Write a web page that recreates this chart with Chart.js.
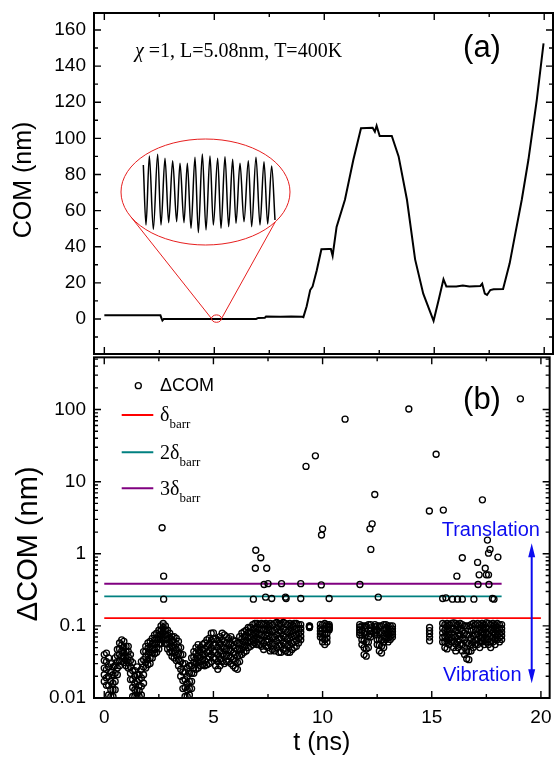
<!DOCTYPE html>
<html>
<head>
<meta charset="utf-8">
<title>COM and ΔCOM vs time</title>
<script src="https://cdn.jsdelivr.net/npm/chart.js@4.4.1/dist/chart.umd.min.js"></script>
<style>
  body { margin: 0; background: #fff; }
  #wrap { position: relative; width: 555px; height: 758px; }
  #wrap canvas { position: absolute; left: 0; }
  #chartA { top: 0; }
  #chartB { top: 352px; }
</style>
</head>
<body>
<div id="wrap">
  <canvas id="chartA" width="555" height="356"></canvas>
  <canvas id="chartB" width="555" height="406"></canvas>
</div>
<script>
// shared time axis
var tTicks = [0, 5, 10, 15, 20];
var tMinor = [2.5, 7.5, 12.5, 17.5];

// (a) COM trajectory
var comTicks = [0, 20, 40, 60, 80, 100, 120, 140, 160];
var comMinor = [-10, 10, 30, 50, 70, 90, 110, 130, 150];
var comT = [0, 1.0, 2.0, 2.55, 2.6, 2.64, 2.7, 3.5, 4.5, 5.5, 6.5, 6.9, 7.0, 7.3, 7.35, 8.0, 8.5, 9.0, 9.05, 9.2,
  9.36, 9.47, 9.66, 9.87, 10.2, 10.3, 10.38, 10.56, 10.94, 11.32, 11.67, 12.2, 12.3, 12.38, 12.52, 13.07, 13.38, 13.76, 14.13, 14.5,
  14.97, 15.2, 15.42, 15.55, 16.0, 16.3, 16.6, 17.1, 17.18, 17.3, 17.4, 17.55, 17.7, 18.13, 18.43, 18.66, 18.98, 19.28, 19.66, 19.97];
var comV = [2, 2, 2, 2, 0.3, -0.8, 0, 0, 0, 0, 0, 0, 0.6, 0.7, 1.3, 1.2, 1.3, 1.2, 1.0, 7,
  16, 18, 27, 38.6, 38.8, 38.8, 35, 51, 66, 88, 105.6, 105.8, 103.7, 107, 101.3, 101.3, 90, 66, 33, 14,
  -1, 10.5, 22, 18, 18, 18.5, 18, 18.3, 19.5, 14, 13.3, 16, 16.4, 16.6, 30.8, 45.6, 66, 88, 121, 152.6];

// zoomed vibration shown in the inset (t in ns, COM offset in nm)
var insetT = [5.000, 5.008, 5.018, 5.030, 5.043, 5.053, 5.065, 5.076, 5.088, 5.100, 5.110, 5.122, 5.132, 5.143, 5.155, 5.165, 5.177, 5.188,
  5.200, 5.210, 5.223, 5.233, 5.245, 5.256, 5.268, 5.278, 5.290, 5.302, 5.315, 5.325, 5.338, 5.350, 5.362, 5.373, 5.385, 5.395];
var insetV = [0.085, -0.095, 0.112, -0.108, 0.117, -0.095, 0.105, -0.088, 0.098, -0.085, 0.090, -0.088, 0.090, -0.105, 0.108, -0.118, 0.118, -0.110,
  0.112, -0.095, 0.105, -0.105, 0.110, -0.100, 0.102, -0.090, 0.090, -0.085, 0.098, -0.100, 0.108, -0.095, 0.095, -0.092, 0.082, -0.080];

// (b) ΔCOM, log axis
var dcomTicks = [0.01, 0.1, 1, 10, 100];
// isolated jumps
var outT = [2.65, 2.72, 2.72, 6.83, 6.92, 6.94, 7.17, 7.32, 7.39, 7.44, 7.5, 7.67, 8.12, 8.3, 8.33, 9.0, 9.0, 9.24, 9.67, 9.94,
  9.95, 10.0, 10.3, 11.03, 11.71, 12.17, 12.21, 12.27, 12.39, 12.55, 13.95, 14.89, 15.2, 15.5, 15.53, 15.65, 15.95, 16.15, 16.18, 16.4,
  16.4, 16.93, 17.1, 17.12, 17.17, 17.32, 17.45, 17.5, 17.55, 17.6, 17.6, 17.62, 17.67, 17.78, 17.85, 18.03, 19.06];
var outV = [2.3, 0.49, 0.235, 0.235, 0.63, 1.12, 0.88, 0.375, 0.25, 0.63, 0.385, 0.24, 0.385, 0.25, 0.24, 0.385, 0.24, 16.3, 22.8, 0.37,
  1.82, 2.22, 0.24, 73.6, 0.375, 2.22, 1.15, 2.6, 6.65, 0.25, 102, 3.92, 24, 0.24, 4.04, 0.245, 0.235, 0.49, 0.235, 0.88,
  0.235, 0.235, 0.76, 0.375, 0.51, 5.6, 0.63, 0.51, 1.55, 0.51, 1.02, 0.375, 1.15, 0.24, 0.235, 0.9, 141];
// vibration band: five points per column, from the top of the band down
var bandT = [0, 0.1, 0.2, 0.3, 0.4, 0.5, 0.6, 0.7, 0.8, 0.9,
  1, 1.1, 1.2, 1.3, 1.4, 1.5, 1.6, 1.7, 1.8, 1.9,
  2, 2.1, 2.2, 2.3, 2.4, 2.5, 2.6, 2.7, 2.8, 2.9,
  3, 3.1, 3.2, 3.3, 3.4, 3.5, 3.6, 3.7, 3.8, 3.9,
  4, 4.1, 4.2, 4.3, 4.4, 4.5, 4.6, 4.7, 4.8, 4.9,
  5, 5.1, 5.2, 5.3, 5.4, 5.5, 5.6, 5.7, 5.8, 5.9,
  6, 6.1, 6.2, 6.3, 6.4, 6.5, 6.6, 6.7, 6.8, 6.9,
  7, 7.1, 7.2, 7.3, 7.4, 7.5, 7.6, 7.7, 7.8, 7.9,
  8, 8.1, 8.2, 8.3, 8.4, 8.5, 8.6, 8.7, 8.8, 8.9,
  9,
  9.4, 9.9, 10, 10.1, 10.2, 10.3,
  11.7, 11.8, 11.9, 12, 12.1, 12.2,
  12.4, 12.5, 12.6, 12.7, 12.8, 12.9, 13, 13.1, 13.2,
  14.9,
  15.5, 15.6, 15.7, 15.8, 15.9, 16, 16.1, 16.2, 16.3, 16.4,
  16.5, 16.6, 16.7, 16.8, 16.9, 17, 17.1, 17.2, 17.3, 17.4,
  17.5, 17.6, 17.7, 17.8, 17.9, 18, 18.1, 18.2];
var bandHi = [0.040, 0.042, 0.036, 0.030, 0.027, 0.036, 0.047, 0.058, 0.064, 0.061,
  0.052, 0.052, 0.040, 0.031, 0.024, 0.027, 0.021, 0.032, 0.044, 0.052,
  0.058, 0.061, 0.067, 0.075, 0.079, 0.087, 0.100, 0.108, 0.100, 0.087,
  0.079, 0.071, 0.071, 0.067, 0.061, 0.050, 0.040, 0.030, 0.026, 0.028,
  0.036, 0.044, 0.050, 0.055, 0.050, 0.055, 0.058, 0.064, 0.067, 0.079,
  0.080, 0.067, 0.064, 0.071, 0.079, 0.075, 0.071, 0.067, 0.071, 0.064,
  0.061, 0.058, 0.071, 0.079, 0.083, 0.087, 0.095, 0.095, 0.104, 0.108,
  0.108, 0.104, 0.108, 0.106, 0.108, 0.104, 0.108, 0.104, 0.108, 0.112,
  0.108, 0.108, 0.112, 0.108, 0.104, 0.108, 0.104, 0.108, 0.108, 0.104,
  0.104,
  0.100, 0.105, 0.104, 0.108, 0.104, 0.104,
  0.104, 0.100, 0.100, 0.100, 0.104, 0.104,
  0.104, 0.100, 0.100, 0.100, 0.104, 0.104, 0.100, 0.100, 0.100,
  0.095,
  0.108, 0.104, 0.108, 0.104, 0.108, 0.110, 0.108, 0.104, 0.108, 0.104,
  0.100, 0.100, 0.100, 0.104, 0.108, 0.104, 0.108, 0.104, 0.108, 0.104,
  0.110, 0.108, 0.104, 0.108, 0.104, 0.108, 0.104, 0.104];
var bandUp = [0.033, 0.032, 0.027, 0.023, 0.021, 0.028, 0.039, 0.048, 0.054, 0.051,
  0.044, 0.044, 0.033, 0.024, 0.020, 0.021, 0.018, 0.025, 0.034, 0.044,
  0.049, 0.051, 0.057, 0.064, 0.068, 0.075, 0.087, 0.095, 0.087, 0.075,
  0.068, 0.061, 0.060, 0.056, 0.050, 0.040, 0.030, 0.023, 0.020, 0.022,
  0.028, 0.037, 0.042, 0.046, 0.043, 0.047, 0.048, 0.052, 0.055, 0.063,
  0.066, 0.054, 0.051, 0.057, 0.063, 0.060, 0.058, 0.056, 0.057, 0.052,
  0.049, 0.047, 0.058, 0.066, 0.071, 0.074, 0.081, 0.082, 0.088, 0.092,
  0.091, 0.089, 0.090, 0.087, 0.090, 0.087, 0.087, 0.085, 0.087, 0.092,
  0.086, 0.086, 0.090, 0.087, 0.083, 0.086, 0.085, 0.089, 0.090, 0.090,
  0.092,
  0.099, 0.094, 0.090, 0.090, 0.090, 0.099,
  0.096, 0.087, 0.079, 0.077, 0.087, 0.094,
  0.097, 0.087, 0.081, 0.080, 0.087, 0.091, 0.088, 0.089, 0.091,
  0.086,
  0.093, 0.087, 0.088, 0.088, 0.093, 0.090, 0.087, 0.087, 0.091, 0.084,
  0.079, 0.076, 0.075, 0.084, 0.089, 0.088, 0.091, 0.087, 0.093, 0.089,
  0.094, 0.091, 0.087, 0.093, 0.089, 0.095, 0.091, 0.092];
var bandMid = [0.026, 0.025, 0.020, 0.017, 0.016, 0.022, 0.032, 0.040, 0.045, 0.043,
  0.038, 0.037, 0.027, 0.018, 0.016, 0.017, 0.015, 0.019, 0.027, 0.037,
  0.041, 0.043, 0.049, 0.055, 0.058, 0.065, 0.076, 0.083, 0.076, 0.065,
  0.058, 0.052, 0.050, 0.047, 0.041, 0.032, 0.023, 0.018, 0.016, 0.017,
  0.022, 0.031, 0.035, 0.038, 0.037, 0.040, 0.040, 0.043, 0.045, 0.050,
  0.054, 0.043, 0.040, 0.045, 0.050, 0.048, 0.048, 0.046, 0.046, 0.042,
  0.040, 0.038, 0.048, 0.056, 0.060, 0.063, 0.069, 0.070, 0.075, 0.079,
  0.077, 0.076, 0.075, 0.071, 0.075, 0.072, 0.070, 0.070, 0.070, 0.075,
  0.068, 0.068, 0.072, 0.070, 0.067, 0.068, 0.070, 0.073, 0.075, 0.078,
  0.082,
  0.098, 0.085, 0.078, 0.076, 0.078, 0.095,
  0.088, 0.075, 0.062, 0.060, 0.072, 0.085,
  0.090, 0.075, 0.066, 0.064, 0.072, 0.080, 0.078, 0.080, 0.083,
  0.078,
  0.080, 0.072, 0.072, 0.075, 0.080, 0.074, 0.070, 0.072, 0.076, 0.068,
  0.063, 0.058, 0.057, 0.068, 0.073, 0.075, 0.077, 0.072, 0.080, 0.076,
  0.081, 0.077, 0.072, 0.080, 0.076, 0.084, 0.079, 0.082];
var bandDn = [0.021, 0.019, 0.015, 0.013, 0.013, 0.017, 0.026, 0.033, 0.038, 0.037,
  0.033, 0.031, 0.022, 0.014, 0.013, 0.013, 0.0125, 0.0145, 0.021, 0.031,
  0.034, 0.036, 0.042, 0.047, 0.050, 0.056, 0.066, 0.072, 0.066, 0.056,
  0.050, 0.044, 0.042, 0.039, 0.034, 0.025, 0.0175, 0.014, 0.013, 0.0135,
  0.017, 0.026, 0.030, 0.031, 0.032, 0.034, 0.033, 0.035, 0.037, 0.040,
  0.044, 0.035, 0.032, 0.035, 0.040, 0.038, 0.039, 0.038, 0.037, 0.034,
  0.032, 0.031, 0.039, 0.047, 0.051, 0.053, 0.059, 0.060, 0.064, 0.068,
  0.065, 0.065, 0.062, 0.058, 0.062, 0.060, 0.056, 0.057, 0.056, 0.061,
  0.054, 0.054, 0.058, 0.056, 0.054, 0.054, 0.057, 0.060, 0.062, 0.067,
  0.072,
  0.096, 0.077, 0.068, 0.065, 0.068, 0.091,
  0.081, 0.064, 0.050, 0.048, 0.060, 0.077,
  0.085, 0.064, 0.054, 0.052, 0.060, 0.072, 0.068, 0.072, 0.076,
  0.070,
  0.069, 0.060, 0.059, 0.064, 0.069, 0.061, 0.056, 0.060, 0.065, 0.055,
  0.050, 0.045, 0.044, 0.055, 0.060, 0.064, 0.065, 0.060, 0.069, 0.065,
  0.070, 0.065, 0.060, 0.069, 0.065, 0.074, 0.069, 0.073];
var bandLo = [0.017, 0.015, 0.011, 0.0105, 0.0105, 0.013, 0.021, 0.028, 0.032, 0.031,
  0.028, 0.026, 0.018, 0.0105, 0.0105, 0.0105, 0.0105, 0.011, 0.016, 0.026,
  0.029, 0.030, 0.036, 0.041, 0.043, 0.048, 0.057, 0.063, 0.057, 0.048,
  0.043, 0.038, 0.036, 0.033, 0.028, 0.020, 0.0135, 0.0105, 0.0105, 0.011,
  0.0135, 0.022, 0.025, 0.026, 0.028, 0.029, 0.028, 0.029, 0.030, 0.032,
  0.036, 0.028, 0.025, 0.028, 0.032, 0.030, 0.032, 0.032, 0.030, 0.028,
  0.026, 0.025, 0.032, 0.040, 0.043, 0.045, 0.050, 0.052, 0.055, 0.058,
  0.055, 0.055, 0.052, 0.047, 0.052, 0.050, 0.045, 0.047, 0.045, 0.050,
  0.043, 0.043, 0.047, 0.045, 0.043, 0.043, 0.047, 0.050, 0.052, 0.058,
  0.064,
  0.095, 0.070, 0.060, 0.055, 0.060, 0.088,
  0.075, 0.055, 0.040, 0.038, 0.050, 0.070,
  0.080, 0.055, 0.045, 0.042, 0.050, 0.065, 0.060, 0.065, 0.070,
  0.062,
  0.060, 0.050, 0.048, 0.055, 0.060, 0.050, 0.045, 0.050, 0.055, 0.045,
  0.040, 0.035, 0.034, 0.045, 0.050, 0.055, 0.055, 0.050, 0.060, 0.055,
  0.060, 0.055, 0.050, 0.060, 0.055, 0.065, 0.060, 0.065];
// barrier thresholds δ, 2δ, 3δ and where each line stops
var barrNames = ['δ_barr', '2δ_barr', '3δ_barr'];
var barrLevels = [0.128, 0.256, 0.384];
var barrEnds = [20, 18.2, 18.2];
var barrColors = ['rgb(255,0,0)', 'rgb(0,128,128)', 'rgb(128,0,128)'];

var SANS = 'Liberation Sans, Arial, sans-serif';
var SERIF = 'Liberation Serif, Times New Roman, serif';
var NB = '\u00a0';

// frame + inward ticks on all four sides
function drawFrame(chart, xMajor, xMinor, yMajor, yMinor) {
  var ctx = chart.ctx, a = chart.chartArea;
  var xs = chart.scales.x, ys = chart.scales.y;
  ctx.save();
  ctx.strokeStyle = '#000';
  ctx.lineWidth = 1.4;
  ctx.beginPath();
  [[xMajor, 7], [xMinor, 4]].forEach(function (p) {
    p[0].forEach(function (v) {
      var px = xs.getPixelForValue(v);
      ctx.moveTo(px, a.top); ctx.lineTo(px, a.top + p[1]);
      ctx.moveTo(px, a.bottom); ctx.lineTo(px, a.bottom - p[1]);
    });
  });
  [[yMajor, 7], [yMinor, 4]].forEach(function (p) {
    p[0].forEach(function (v) {
      var py = ys.getPixelForValue(v);
      ctx.moveTo(a.left, py); ctx.lineTo(a.left + p[1], py);
      ctx.moveTo(a.right, py); ctx.lineTo(a.right - p[1], py);
    });
  });
  ctx.stroke();
  ctx.lineWidth = 2;
  ctx.strokeRect(a.left, a.top, a.right - a.left, a.bottom - a.top);
  ctx.restore();
}

var panelA = {
  id: 'panelA',
  afterDraw: function (chart) {
    var ctx = chart.ctx, a = chart.chartArea;
    var xs = chart.scales.x, ys = chart.scales.y;
    drawFrame(chart, tTicks, tMinor, comTicks, comMinor);
    ctx.save();
    // magnifier: small ellipse on the trace, big ellipse round the inset
    var sx = xs.getPixelForValue(5.1), sy = ys.getPixelForValue(0.2);
    var bx = a.left + 111.5, by = a.top + 179, rx = 84.5, ry = 53;
    ctx.strokeStyle = 'rgb(230,30,30)';
    ctx.lineWidth = 1;
    ctx.beginPath();
    ctx.ellipse(sx, sy, 5, 3.7, 0, 0, Math.PI * 2);
    ctx.stroke();
    ctx.beginPath();
    ctx.ellipse(bx, by, rx, ry, 0, 0, Math.PI * 2);
    ctx.stroke();
    var aL = 151.5 * Math.PI / 180, aR = 34.4 * Math.PI / 180;
    ctx.beginPath();
    ctx.moveTo(sx - 5, sy);
    ctx.lineTo(bx + rx * Math.cos(aL), by + ry * Math.sin(aL));
    ctx.moveTo(sx + 5, sy);
    ctx.lineTo(bx + rx * Math.cos(aR), by + ry * Math.sin(aR));
    ctx.stroke();
    // panel label and parameters
    ctx.fillStyle = '#000';
    ctx.font = '31px ' + SANS;
    ctx.textAlign = 'center';
    ctx.textBaseline = 'middle';
    ctx.fillText('(a)', a.left + 388, a.top + 35);
    ctx.textAlign = 'left';
    ctx.textBaseline = 'alphabetic';
    ctx.font = 'italic 20px ' + SERIF;
    var x0 = a.left + 41, y0 = a.top + 44;
    ctx.fillText('χ', x0, y0);
    var w = ctx.measureText('χ').width;
    ctx.font = '20px ' + SERIF;
    ctx.fillText(' =1, L=5.08nm, T=400K', x0 + w, y0);
    ctx.restore();
  }
};

var legendRows = [28.3, 57.7, 95, 131];

var panelB = {
  id: 'panelB',
  afterDraw: function (chart) {
    var ctx = chart.ctx, a = chart.chartArea;
    var minor = [];
    dcomTicks.forEach(function (d) {
      for (var k = 2; k <= 9; k++) minor.push(d * k);
    });
    drawFrame(chart, tTicks, tMinor, dcomTicks, minor.filter(function (v) { return v < 530; }));
    ctx.save();
    // legend
    chart.data.datasets.forEach(function (ds, i) {
      var yy = a.top + legendRows[i];
      var tx = a.left + 66;
      ctx.fillStyle = '#000';
      if (ds.showLine) {
        ctx.strokeStyle = ds.borderColor;
        ctx.lineWidth = 2;
        ctx.beginPath();
        ctx.moveTo(a.left + 27.7, yy);
        ctx.lineTo(a.left + 59.3, yy);
        ctx.stroke();
        var parts = ds.label.split('_');
        ctx.textAlign = 'left';
        ctx.textBaseline = 'alphabetic';
        ctx.font = '20px ' + SERIF;
        ctx.fillText(parts[0], tx, yy + 6.3);
        var w = ctx.measureText(parts[0]).width;
        ctx.font = '13px ' + SERIF;
        ctx.fillText(parts[1], tx + w, yy + 13.3);
      } else {
        ctx.strokeStyle = '#000';
        ctx.lineWidth = ds.borderWidth;
        ctx.beginPath();
        ctx.arc(a.left + 44.3, yy, ds.pointRadius, 0, Math.PI * 2);
        ctx.stroke();
        ctx.font = '18px ' + SANS;
        ctx.textAlign = 'left';
        ctx.textBaseline = 'middle';
        ctx.fillText(ds.label, tx, yy);
      }
    });
    // panel label
    ctx.fillStyle = '#000';
    ctx.font = '31px ' + SANS;
    ctx.textAlign = 'center';
    ctx.textBaseline = 'middle';
    ctx.fillText('(b)', a.left + 388, a.top + 42.7);
    // translation / vibration arrow
    var blue = 'rgb(12,12,240)';
    ctx.fillStyle = blue;
    ctx.strokeStyle = blue;
    ctx.font = '20px ' + SANS;
    ctx.textAlign = 'left';
    ctx.textBaseline = 'alphabetic';
    ctx.fillText('Translation', a.left + 347.7, a.top + 179);
    ctx.fillText('Vibration', a.left + 349, a.top + 324);
    var ax = a.left + 437.7, y1 = a.top + 186, y2 = a.top + 326;
    ctx.lineWidth = 2;
    ctx.beginPath();
    ctx.moveTo(ax, y1 + 8);
    ctx.lineTo(ax, y2 - 8);
    ctx.stroke();
    ctx.beginPath();
    ctx.moveTo(ax, y1); ctx.lineTo(ax - 3.5, y1 + 14); ctx.lineTo(ax + 3.5, y1 + 14); ctx.closePath();
    ctx.moveTo(ax, y2); ctx.lineTo(ax - 3.5, y2 - 14); ctx.lineTo(ax + 3.5, y2 - 14); ctx.closePath();
    ctx.fill();
    ctx.restore();
  }
};

function setTicks(list) {
  return function (scale) {
    scale.ticks = list.map(function (v) { return { value: v }; });
  };
}
// fixed axis box, no label overflow padding, so the plot area lands where it should
function fixWidth(w) {
  return function (s) {
    s.width = w;
    s.paddingTop = 0; s.paddingBottom = 0; s.paddingLeft = 0; s.paddingRight = 0;
  };
}
function fixHeight(h) {
  return function (s) {
    s.height = h;
    s.paddingTop = 0; s.paddingBottom = 0; s.paddingLeft = 0; s.paddingRight = 0;
  };
}

// ---------- chart (a) ----------
new Chart('chartA', {
  type: 'scatter',
  data: {
    datasets: [{
      type: 'line',
      data: comT.map(function (t, i) { return { x: t, y: comV[i] }; }),
      borderColor: '#000',
      borderWidth: 2,
      pointRadius: 0,
      tension: 0,
      showLine: true
    }, {
      type: 'line',
      xAxisID: 'xi',
      yAxisID: 'yi',
      data: insetT.map(function (t, i) { return { x: t, y: insetV[i] }; }),
      borderColor: '#000',
      borderWidth: 1.5,
      pointRadius: 0,
      cubicInterpolationMode: 'monotone',
      showLine: true
    }]
  },
  options: {
    responsive: false,
    animation: false,
    layout: { padding: { left: 0, top: 13, right: 2, bottom: 2 } },
    plugins: { legend: { display: false }, tooltip: { enabled: false } },
    scales: {
      x: { type: 'linear', min: -0.47, max: 20.4, display: false },
      y: {
        type: 'linear', min: -19.4, max: 169.4,
        afterBuildTicks: setTicks(comTicks),
        afterFit: fixWidth(94),
        grid: { display: false, drawTicks: false },
        border: { display: false },
        ticks: { color: '#000', padding: 8, autoSkip: false, font: { family: SANS, size: 19 } },
        title: { display: true, text: NB + 'COM (nm)', color: '#000', font: { family: SANS, size: 25 }, padding: { top: 9, bottom: 0 } }
      },
      xi: { type: 'linear', min: 4.852, max: 6.229, display: false },
      yi: { type: 'linear', min: -0.482, max: 0.541, display: false }
    }
  },
  plugins: [panelA]
});

// ---------- chart (b) ----------
var dcomPts = outT.map(function (t, i) { return { x: t, y: outV[i] }; });
[bandHi, bandUp, bandMid, bandDn, bandLo].forEach(function (arr) {
  bandT.forEach(function (t, i) { dcomPts.push({ x: t, y: arr[i] }); });
});

var dsB = [{
  label: 'ΔCOM',
  data: dcomPts,
  showLine: false,
  pointStyle: 'circle',
  pointRadius: 3,
  borderWidth: 1.35,
  borderColor: '#000',
  backgroundColor: 'rgba(0,0,0,0)',
  order: 0
}];
barrLevels.forEach(function (lv, i) {
  dsB.push({
    type: 'line',
    label: barrNames[i],
    data: [{ x: 0, y: lv }, { x: barrEnds[i], y: lv }],
    borderColor: barrColors[i],
    borderWidth: 1.8,
    pointRadius: 0,
    showLine: true,
    order: 1
  });
});

new Chart('chartB', {
  type: 'scatter',
  data: { datasets: dsB },
  options: {
    responsive: false,
    animation: false,
    layout: { padding: { left: 0, top: 2, right: 2, bottom: 0 } },
    plugins: { legend: { display: false }, tooltip: { enabled: false } },
    scales: {
      x: {
        type: 'linear', min: -0.47, max: 20.4, position: 'bottom',
        afterBuildTicks: setTicks(tTicks),
        afterFit: fixHeight(60),
        grid: { display: false, drawTicks: false },
        border: { display: false },
        ticks: { color: '#000', padding: 8, autoSkip: false, maxRotation: 0, font: { family: SANS, size: 19 } },
        title: { display: true, text: 't (ns)', color: '#000', font: { family: SANS, size: 25 }, padding: { top: 0, bottom: 0 } }
      },
      y: {
        type: 'logarithmic', min: 0.01, max: 530,
        afterBuildTicks: setTicks(dcomTicks),
        afterFit: fixWidth(94),
        grid: { display: false, drawTicks: false },
        border: { display: false },
        ticks: {
          color: '#000', padding: 8, autoSkip: false, font: { family: SANS, size: 19 },
          callback: function (v) { return String(v); }
        },
        title: { display: true, text: 'ΔCOM (nm)' + NB + NB + NB + NB, color: '#000', font: { family: SANS, size: 29 }, padding: { top: 12, bottom: 0 } }
      }
    }
  },
  plugins: [panelB]
});
</script>
</body>
</html>
